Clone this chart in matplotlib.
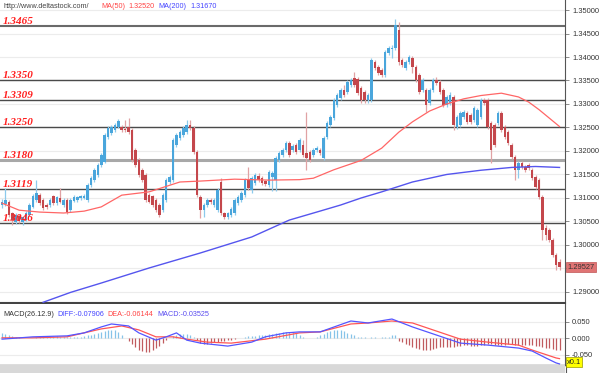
import numpy as np
import matplotlib
matplotlib.use("Agg")
import matplotlib.pyplot as plt
from matplotlib.lines import Line2D
from matplotlib.patches import Rectangle
from matplotlib.transforms import blended_transform_factory

# --- candles (oldest first) ---
opens = [
    1.3085, 1.3087, 1.3092, 1.3068, 1.3049, 1.3062, 1.3049, 1.3055, 1.3064, 1.3081,
    1.3096, 1.3107, 1.3096, 1.3085, 1.3085, 1.3104, 1.3089, 1.3100, 1.3085, 1.3096,
    1.3074, 1.3094, 1.3096, 1.3100, 1.3100, 1.3096, 1.3128, 1.3138, 1.3149, 1.3170,
    1.3177, 1.3230, 1.3238, 1.3245, 1.3251, 1.3251, 1.3247, 1.3251, 1.3245, 1.3202,
    1.3181, 1.3160, 1.3149, 1.3107, 1.3104, 1.3096, 1.3085, 1.3074, 1.3096, 1.3134,
    1.3138, 1.3213, 1.3228, 1.3234, 1.3240, 1.3255, 1.3249, 1.3198, 1.3102, 1.3074,
    1.3085, 1.3096, 1.3085, 1.3074, 1.3134, 1.3068, 1.3059, 1.3064, 1.3068, 1.3089,
    1.3096, 1.3107, 1.3138, 1.3117, 1.3132, 1.3147, 1.3143, 1.3136, 1.3128, 1.3145,
    1.3138, 1.3181, 1.3191, 1.3202, 1.3217, 1.3202, 1.3213, 1.3202, 1.3213, 1.3196,
    1.3198, 1.3191, 1.3202, 1.3202, 1.3185, 1.3230, 1.3255, 1.3270, 1.3298, 1.3313,
    1.3330, 1.3326, 1.3340, 1.3355, 1.3353, 1.3334, 1.3326, 1.3308, 1.3308, 1.3389,
    1.3379, 1.3372, 1.3362, 1.3409, 1.3417, 1.3419, 1.3457, 1.3394, 1.3377, 1.3389,
    1.3398, 1.3379, 1.3362, 1.3330, 1.3330, 1.3302, 1.3330, 1.3351, 1.3347, 1.3330,
    1.3298, 1.3302, 1.3315, 1.3251, 1.3255, 1.3272, 1.3281, 1.3277, 1.3266, 1.3255,
    1.3272, 1.3308, 1.3308, 1.3260, 1.3255, 1.3260, 1.3281, 1.3251, 1.3240, 1.3213,
    1.3187, 1.3160, 1.3174, 1.3166, 1.3170, 1.3160, 1.3145, 1.3138, 1.3102, 1.3036,
    1.3032, 1.3011, 1.2979, 1.2964,
]
highs = [
    1.3098, 1.3121, 1.3096, 1.3070, 1.3068, 1.3066, 1.3062, 1.3072, 1.3089, 1.3109,
    1.3138, 1.3111, 1.3100, 1.3089, 1.3100, 1.3107, 1.3104, 1.3121, 1.3100, 1.3100,
    1.3100, 1.3107, 1.3104, 1.3107, 1.3109, 1.3132, 1.3147, 1.3164, 1.3174, 1.3196,
    1.3238, 1.3253, 1.3255, 1.3260, 1.3268, 1.3255, 1.3266, 1.3270, 1.3249, 1.3206,
    1.3185, 1.3164, 1.3153, 1.3111, 1.3107, 1.3100, 1.3089, 1.3111, 1.3143, 1.3149,
    1.3228, 1.3238, 1.3245, 1.3253, 1.3266, 1.3266, 1.3253, 1.3202, 1.3107, 1.3089,
    1.3100, 1.3100, 1.3100, 1.3121, 1.3143, 1.3070, 1.3070, 1.3081, 1.3100, 1.3107,
    1.3115, 1.3143, 1.3166, 1.3147, 1.3153, 1.3153, 1.3147, 1.3138, 1.3160, 1.3157,
    1.3189, 1.3200, 1.3206, 1.3221, 1.3221, 1.3215, 1.3217, 1.3228, 1.3223, 1.3283,
    1.3202, 1.3206, 1.3211, 1.3206, 1.3232, 1.3264, 1.3277, 1.3313, 1.3323, 1.3334,
    1.3340, 1.3351, 1.3355, 1.3368, 1.3357, 1.3338, 1.3330, 1.3323, 1.3398, 1.3394,
    1.3383, 1.3377, 1.3415, 1.3423, 1.3426, 1.3481, 1.3475, 1.3398, 1.3394, 1.3404,
    1.3402, 1.3383, 1.3366, 1.3355, 1.3334, 1.3334, 1.3355, 1.3357, 1.3351, 1.3334,
    1.3319, 1.3326, 1.3319, 1.3277, 1.3285, 1.3287, 1.3285, 1.3281, 1.3296, 1.3291,
    1.3313, 1.3313, 1.3313, 1.3264, 1.3260, 1.3285, 1.3285, 1.3255, 1.3245, 1.3217,
    1.3191, 1.3179, 1.3179, 1.3170, 1.3174, 1.3164, 1.3149, 1.3143, 1.3107, 1.3043,
    1.3036, 1.3015, 1.2983, 1.2970,
]
lows = [
    1.3079, 1.3083, 1.3059, 1.3043, 1.3045, 1.3047, 1.3043, 1.3051, 1.3062, 1.3079,
    1.3092, 1.3085, 1.3074, 1.3077, 1.3081, 1.3085, 1.3085, 1.3089, 1.3081, 1.3066,
    1.3070, 1.3092, 1.3092, 1.3096, 1.3098, 1.3092, 1.3124, 1.3134, 1.3145, 1.3166,
    1.3174, 1.3226, 1.3234, 1.3240, 1.3249, 1.3240, 1.3240, 1.3236, 1.3177, 1.3166,
    1.3145, 1.3134, 1.3092, 1.3089, 1.3081, 1.3070, 1.3059, 1.3070, 1.3092, 1.3130,
    1.3134, 1.3209, 1.3223, 1.3230, 1.3236, 1.3245, 1.3194, 1.3102, 1.3057, 1.3059,
    1.3081, 1.3087, 1.3081, 1.3070, 1.3064, 1.3055, 1.3055, 1.3059, 1.3064, 1.3085,
    1.3092, 1.3102, 1.3117, 1.3111, 1.3128, 1.3134, 1.3128, 1.3126, 1.3124, 1.3115,
    1.3115, 1.3177, 1.3187, 1.3198, 1.3187, 1.3198, 1.3194, 1.3198, 1.3187, 1.3160,
    1.3177, 1.3187, 1.3198, 1.3191, 1.3181, 1.3226, 1.3251, 1.3266, 1.3294, 1.3308,
    1.3315, 1.3321, 1.3336, 1.3336, 1.3319, 1.3302, 1.3302, 1.3302, 1.3304, 1.3372,
    1.3362, 1.3357, 1.3357, 1.3404, 1.3398, 1.3415, 1.3383, 1.3379, 1.3372, 1.3385,
    1.3366, 1.3347, 1.3321, 1.3326, 1.3283, 1.3298, 1.3326, 1.3340, 1.3321, 1.3294,
    1.3294, 1.3298, 1.3245, 1.3247, 1.3251, 1.3268, 1.3257, 1.3257, 1.3262, 1.3251,
    1.3268, 1.3298, 1.3247, 1.3174, 1.3209, 1.3255, 1.3240, 1.3226, 1.3213, 1.3183,
    1.3138, 1.3143, 1.3162, 1.3155, 1.3160, 1.3138, 1.3119, 1.3098, 1.3011, 1.3011,
    1.3006, 1.2975, 1.2947, 1.2947,
]
closes = [
    1.3092, 1.3096, 1.3064, 1.3053, 1.3064, 1.3051, 1.3059, 1.3068, 1.3085, 1.3104,
    1.3111, 1.3089, 1.3079, 1.3081, 1.3096, 1.3089, 1.3102, 1.3092, 1.3096, 1.3070,
    1.3096, 1.3102, 1.3102, 1.3104, 1.3104, 1.3128, 1.3143, 1.3160, 1.3170, 1.3191,
    1.3234, 1.3249, 1.3251, 1.3255, 1.3264, 1.3245, 1.3245, 1.3240, 1.3181, 1.3170,
    1.3149, 1.3138, 1.3096, 1.3092, 1.3085, 1.3074, 1.3064, 1.3107, 1.3138, 1.3145,
    1.3223, 1.3234, 1.3240, 1.3249, 1.3255, 1.3249, 1.3198, 1.3107, 1.3074, 1.3085,
    1.3096, 1.3092, 1.3096, 1.3117, 1.3068, 1.3059, 1.3068, 1.3077, 1.3096, 1.3102,
    1.3111, 1.3138, 1.3121, 1.3143, 1.3149, 1.3138, 1.3132, 1.3130, 1.3155, 1.3153,
    1.3185, 1.3196, 1.3202, 1.3217, 1.3191, 1.3211, 1.3198, 1.3223, 1.3191, 1.3185,
    1.3181, 1.3202, 1.3206, 1.3196, 1.3228, 1.3260, 1.3272, 1.3308, 1.3319, 1.3330,
    1.3319, 1.3347, 1.3351, 1.3340, 1.3323, 1.3308, 1.3308, 1.3319, 1.3394, 1.3377,
    1.3366, 1.3362, 1.3411, 1.3419, 1.3419, 1.3468, 1.3389, 1.3383, 1.3389, 1.3400,
    1.3379, 1.3351, 1.3326, 1.3351, 1.3298, 1.3330, 1.3351, 1.3345, 1.3326, 1.3298,
    1.3315, 1.3319, 1.3255, 1.3272, 1.3281, 1.3283, 1.3262, 1.3262, 1.3291, 1.3287,
    1.3308, 1.3302, 1.3251, 1.3202, 1.3213, 1.3281, 1.3245, 1.3230, 1.3217, 1.3187,
    1.3160, 1.3174, 1.3166, 1.3160, 1.3164, 1.3143, 1.3124, 1.3102, 1.3032, 1.3021,
    1.3011, 1.2979, 1.2958, 1.2953,
]

# moving averages (candle index, value)
ma50_idx = [0, 5, 11, 18, 24, 29, 35, 43, 52, 58, 68, 78, 87, 91, 97, 101, 105, 111, 116, 120,
            125, 130, 135, 140, 146, 151, 154, 157, 160, 163]
ma50_val = [1.3089, 1.3074, 1.3070, 1.3068, 1.3072, 1.3081, 1.3106, 1.3113, 1.3134, 1.3136,
            1.3140, 1.3138, 1.3139, 1.3142, 1.3160, 1.3170, 1.3180, 1.3206, 1.3240, 1.3262,
            1.3285, 1.3300, 1.3311, 1.3318, 1.3323, 1.3315, 1.3304, 1.3288, 1.3270, 1.3252]
ma200_idx = [12, 20, 29, 43, 58, 73, 84, 92, 99, 105, 111, 120, 130, 140, 149, 156, 163]
ma200_val = [1.2878, 1.2899, 1.2919, 1.2951, 1.2983, 1.3017, 1.3053, 1.3070, 1.3085, 1.3100,
             1.3113, 1.3134, 1.3150, 1.3159, 1.3165, 1.3167, 1.3165]

levels = [1.3465, 1.3350, 1.3309, 1.3250, 1.3180, 1.3119, 1.3046]
level_labels = ["1.3465", "1.3350", "1.3309", "1.3250", "1.3180", "1.3119", "1.3046"]

# MACD panel
diff_idx = [0, 9, 19, 24, 29, 32, 37, 40, 45, 48, 51, 54, 58, 66, 73, 77, 83, 87, 93, 102, 107,
            114, 120, 126, 134, 142, 151, 155, 159, 162, 163]
diff_val = [-0.002, 0.005, 0.008, 0.017, 0.035, 0.044, 0.038, 0.017, -0.005, 0.005, 0.017, -0.005,
            -0.014, -0.023, -0.011, 0.005, 0.017, 0.020, 0.020, 0.053, 0.047, 0.059, 0.035, 0.014,
            -0.014, -0.020, -0.029, -0.038, -0.059, -0.074, -0.077]
dea_idx = [0, 9, 19, 29, 35, 40, 45, 50, 54, 60, 67, 77, 87, 93, 102, 107, 114, 120, 126, 134,
           142, 151, 155, 162, 163]
dea_val = [0.002, 0.002, 0.005, 0.029, 0.038, 0.026, 0.005, 0.005, -0.002, -0.011, -0.014, -0.002,
           0.017, 0.020, 0.044, 0.047, 0.053, 0.047, 0.026, -0.002, -0.011, -0.020, -0.035, -0.059,
           -0.061]
hist = [
    0.017, 0.014, 0.010, 0.008, 0.006, 0.004, 0.003, 0.002, 0.001, 0.002,
    0.004, 0.006, 0.007, 0.007, 0.006, 0.006, 0.007, 0.006, 0.005, 0.005, 0.006, 0.006, 0.005, 0.006,
    0.008, 0.010, 0.012, 0.015, 0.018, 0.021, 0.024, 0.026, 0.027, 0.025, 0.020, 0.012,
    0.002, -0.008, -0.018, -0.027, -0.034, -0.039, -0.042, -0.040, -0.036, -0.030, -0.022, -0.014,
    -0.006, 0.002, 0.008, 0.012, 0.014, 0.015, 0.013, 0.010,
    0.004, -0.006, -0.014, -0.018, -0.017, -0.015, -0.012, -0.010,
    -0.008, -0.007, -0.006, -0.004, -0.002, 0.001, 0.003,
    0.005, 0.007, 0.008, 0.009, 0.010, 0.011, 0.012, 0.013, 0.014, 0.016, 0.018, 0.019, 0.020, 0.020,
    0.019, 0.018,
    0.010, 0.005, 0.002, 0.001, 0.002, 0.004,
    0.010, 0.015, 0.020, 0.024, 0.026, 0.026, 0.025, 0.022, 0.018, 0.014, 0.010,
    0.006, 0.005, 0.004, 0.003, 0.004, 0.005, 0.003, 0.004, 0.005, 0.006,
    0.010, 0.012,
    -0.008, -0.012, -0.016, -0.020, -0.025, -0.030, -0.033, -0.035, -0.035, -0.034,
    -0.031, -0.028, -0.026, -0.025, -0.026, -0.027, -0.026, -0.024, -0.022, -0.020,
    -0.020, -0.022, -0.024, -0.023, -0.021, -0.019, -0.018, -0.018, -0.019, -0.020,
    -0.020, -0.019, -0.018, -0.018, -0.019, -0.020, -0.021, -0.021, -0.020, -0.020,
    -0.022, -0.024, -0.026, -0.028, -0.030, -0.032, -0.034, -0.035,
]

last_price = 1.29527

UP, UP_WICK = "#4aa6dc", "#8ccaec"
DN, DN_WICK = "#c4474c", "#e0a2a4"

W, H = 600, 373
fig = plt.figure(figsize=(W / 100, H / 100), dpi=100)
fig.patch.set_facecolor("white")
plt.rcParams["font.family"] = ["Liberation Sans", "DejaVu Sans"]

px_x = lambda x: x / W
px_y = lambda y: 1 - y / H

ax = fig.add_axes([0, px_y(303), px_x(565), 303 / H])
mx = fig.add_axes([0, px_y(365), px_x(565), 61 / H])

n = len(closes)
idx = np.arange(n)
o = np.array(opens); c = np.array(closes)
hi = np.array(highs); lo = np.array(lows)
up = c >= o

# wicks then bodies
ax.vlines(idx[up], lo[up], hi[up], color=UP_WICK, lw=0.9, zorder=3)
ax.vlines(idx[~up], lo[~up], hi[~up], color=DN_WICK, lw=0.9, zorder=3)
body_lo = np.minimum(o, c)
body_h = np.maximum(np.abs(c - o), 0.00012)
ax.bar(idx[up], body_h[up], bottom=body_lo[up], width=0.74, color=UP, lw=0, zorder=4)
ax.bar(idx[~up], body_h[~up], bottom=body_lo[~up], width=0.74, color=DN, lw=0, zorder=4)

ax.plot(ma50_idx, ma50_val, color="#ff6666", lw=0.9, zorder=5)
ax.plot(ma200_idx, ma200_val, color="#5555ee", lw=1.0, zorder=5)

# support / resistance lines with labels
trans = blended_transform_factory(ax.transAxes, ax.transData)
for lv, lab in zip(levels, level_labels):
    if lab == "1.3180":
        ax.axhline(lv, color="#a8a8a8", lw=2.2, zorder=2)
    elif lab == "1.3465":
        ax.axhline(lv, color="#6a6a6a", lw=1.5, zorder=2)
    else:
        ax.axhline(lv, color="#4a4a4a", lw=1.0, zorder=2)
    ax.text(0.004, lv + 0.00045, lab, transform=trans, color="#ff2020",
            fontsize=8, fontweight="bold", fontstyle="italic",
            family=["Liberation Serif", "DejaVu Serif"], va="baseline", ha="left", zorder=6)

ax.set_xlim(-0.6, 164.6)
ax.set_ylim(1.28765, 1.35213)
yt = np.round(np.arange(1.29, 1.3501, 0.005), 3)
ax.set_yticks(yt)
ax.set_yticklabels(["" if abs(v - 1.295) < 1e-6 else f"{v:.5f}" for v in yt])
ax.yaxis.tick_right()
ax.tick_params(axis="y", length=3, width=0.6, color="#777", labelsize=5.4,
               labelcolor="#333", pad=2)
ax.set_xticks([])
ax.grid(axis="y", color="#ececec", lw=0.8, zorder=0)
ax.set_axisbelow(True)
for s in ("left", "top"):
    ax.spines[s].set_visible(False)
ax.spines["right"].set_color("#555")
ax.spines["right"].set_linewidth(0.8)
ax.spines["bottom"].set_color("#444")
ax.spines["bottom"].set_linewidth(1.5)

ax.text(1.004, last_price, f"{last_price:.5f}", transform=trans, fontsize=5.4, color="#333",
        va="center", ha="left", zorder=10, clip_on=False,
        bbox=dict(boxstyle="square,pad=0.2", fc="#e07474", ec="#c05555", lw=0.5))

# MACD panel
h = np.array(hist)
hx = np.arange(len(h))
mx.vlines(hx[h >= 0], 0, h[h >= 0], color="#86c3e8", lw=0.9)
mx.vlines(hx[h < 0], 0, h[h < 0], color="#c05a5e", lw=0.9)
mx.plot(dea_idx, dea_val, color="#ff5555", lw=0.9)
mx.plot(diff_idx, diff_val, color="#5555ff", lw=0.9)
mx.set_xlim(-0.6, 164.6)
mx.set_ylim(-0.0803, 0.1045)
mx.set_yticks([-0.05, 0.0, 0.05])
mx.set_yticklabels(["-0.050", "0.000", "0.050"])
mx.yaxis.tick_right()
mx.tick_params(axis="y", length=3, width=0.6, color="#777", labelsize=5.4,
               labelcolor="#333", pad=2)
mx.set_xticks([])
mx.grid(axis="y", color="#ececec", lw=0.8)
mx.set_axisbelow(True)
for s in ("left", "top"):
    mx.spines[s].set_visible(False)
mx.spines["right"].set_color("#555")
mx.spines["right"].set_linewidth(0.8)
mx.spines["bottom"].set_color("#555")
mx.spines["bottom"].set_linewidth(1.0)

# bottom strip and the right border running through it
fig.patches.append(Rectangle((0, 0), px_x(565), 8 / H, transform=fig.transFigure,
                             fc="#d8d8d8", ec="none", zorder=0))
fig.add_artist(Line2D([px_x(565.5)] * 2, [0, px_y(365)], color="#555", lw=0.8))

# headers
hdr_y = px_y(6)
fig.text(px_x(3), hdr_y, "http://www.deltastock.com/", fontsize=5.2, color="#444", va="center")
fig.text(px_x(101), hdr_y, "MA(50)", fontsize=5.2, color="#ff4444", va="center")
fig.text(px_x(128), hdr_y, "1.32520", fontsize=5.2, color="#ff4444", va="center")
fig.text(px_x(158), hdr_y, "MA(200)", fontsize=5.2, color="#4444ff", va="center")
fig.text(px_x(190), hdr_y, "1.31670", fontsize=5.2, color="#4444ff", va="center")

m_y = px_y(315)
fig.text(px_x(3), m_y, "MACD(26.12.9)", fontsize=5.2, color="#333", va="center")
fig.text(px_x(57), m_y, "DIFF:-0.07906", fontsize=5.2, color="#4444ff", va="center")
fig.text(px_x(107), m_y, "DEA:-0.06144", fontsize=5.2, color="#ff4444", va="center")
fig.text(px_x(157), m_y, "MACD:-0.03525", fontsize=5.2, color="#5a4cf0", va="center")

fig.text(px_x(567), px_y(362), "x0.1", fontsize=5.4, color="#222", va="center", ha="left",
         bbox=dict(boxstyle="square,pad=0.15", fc="#ffff00", ec="#999900", lw=0.5))

fig.savefig("out.png", dpi=100)
